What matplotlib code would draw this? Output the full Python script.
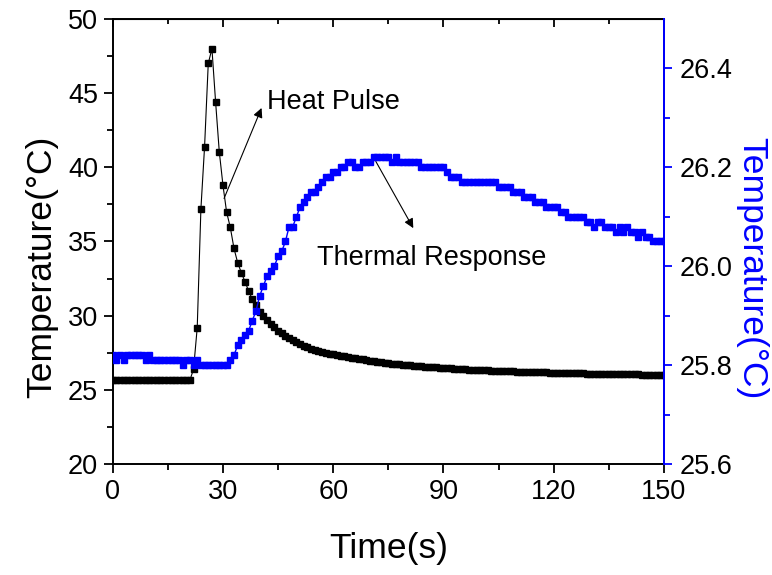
import matplotlib.pyplot as plt
import numpy as np

plt.rcParams['font.family'] = ['Liberation Sans', 'DejaVu Sans']

# sampling time (s), one reading per second
time = np.arange(151)

# heat pulse temperature (left axis)
pulse = [
    25.65, 25.65, 25.65, 25.65, 25.65, 25.65, 25.65, 25.65, 25.65, 25.65,
    25.65, 25.65, 25.65, 25.65, 25.65, 25.65, 25.65, 25.65, 25.65, 25.65,
    25.65, 25.65, 26.40, 29.20, 37.20, 41.40, 47.00, 48.00, 44.40, 41.05,
    38.80, 36.97, 35.95, 34.54, 33.57, 32.90, 32.29, 31.66, 31.10, 30.72,
    30.26, 29.97, 29.70, 29.43, 29.21, 28.98, 28.80, 28.62, 28.47, 28.33,
    28.20, 28.08, 27.97, 27.87, 27.78, 27.70, 27.63, 27.56, 27.50, 27.45,
    27.40, 27.35, 27.30, 27.25, 27.21, 27.17, 27.13, 27.09, 27.05, 27.01,
    26.97, 26.93, 26.90, 26.86, 26.83, 26.80, 26.77, 26.75, 26.72, 26.70,
    26.67, 26.65, 26.63, 26.61, 26.59, 26.57, 26.55, 26.53, 26.51, 26.49,
    26.47, 26.45, 26.44, 26.42, 26.41, 26.39, 26.38, 26.37, 26.35, 26.34,
    26.33, 26.32, 26.31, 26.30, 26.29, 26.28, 26.27, 26.26, 26.25, 26.24,
    26.23, 26.22, 26.21, 26.21, 26.20, 26.19, 26.18, 26.18, 26.17, 26.16,
    26.16, 26.15, 26.14, 26.14, 26.13, 26.13, 26.12, 26.11, 26.11, 26.10,
    26.10, 26.09, 26.09, 26.08, 26.08, 26.07, 26.07, 26.06, 26.06, 26.05,
    26.05, 26.05, 26.04, 26.04, 26.03, 26.03, 26.03, 26.02, 26.02, 26.02,
    26.01,
]

# thermal response temperature (right axis)
response = [
    25.82, 25.81, 25.82, 25.81, 25.82, 25.82, 25.82, 25.82, 25.82, 25.81,
    25.82, 25.81, 25.81, 25.81, 25.81, 25.81, 25.81, 25.81, 25.81, 25.80,
    25.81, 25.81, 25.80, 25.81, 25.80, 25.80, 25.80, 25.80, 25.80, 25.80,
    25.80, 25.80, 25.81, 25.82, 25.84, 25.85, 25.86, 25.87, 25.89, 25.91,
    25.94, 25.96, 25.98, 25.99, 26.00, 26.02, 26.03, 26.05, 26.08, 26.08,
    26.10, 26.12, 26.13, 26.14, 26.15, 26.15, 26.16, 26.17, 26.18, 26.18,
    26.19, 26.19, 26.20, 26.20, 26.21, 26.21, 26.20, 26.20, 26.21, 26.21,
    26.21, 26.22, 26.22, 26.22, 26.22, 26.22, 26.21, 26.22, 26.21, 26.21,
    26.21, 26.21, 26.21, 26.21, 26.20, 26.20, 26.20, 26.20, 26.20, 26.20,
    26.20, 26.19, 26.18, 26.18, 26.18, 26.17, 26.17, 26.17, 26.17, 26.17,
    26.17, 26.17, 26.17, 26.17, 26.17, 26.16, 26.16, 26.16, 26.16, 26.15,
    26.15, 26.15, 26.14, 26.14, 26.14, 26.13, 26.13, 26.13, 26.12, 26.12,
    26.12, 26.12, 26.11, 26.11, 26.10, 26.10, 26.10, 26.10, 26.10, 26.09,
    26.09, 26.08, 26.09, 26.09, 26.08, 26.08, 26.08, 26.07, 26.08, 26.07,
    26.08, 26.07, 26.07, 26.06, 26.07, 26.06, 26.06, 26.05, 26.05, 26.05,
    26.05,
]

fig = plt.figure(figsize=(7.72, 5.75), dpi=100)
ax = fig.add_axes([0.146, 0.193, 0.714, 0.774])

ax.plot(time, pulse, '-s', color='black', lw=0.8, ms=3.8)
ax.set_xlim(0, 150)
ax.set_ylim(20, 50)
ax.set_xticks(range(0, 151, 30))
ax.set_xticks(range(15, 151, 30), minor=True)
ax.set_yticks(range(20, 51, 5))
ax.set_yticks(np.arange(22.5, 50, 5), minor=True)
ax.tick_params(which='both', direction='out', labelsize=19.5, width=1.3, pad=4)
ax.tick_params(which='major', length=6.5)
ax.tick_params(which='minor', length=4)
for s in ax.spines.values():
    s.set_linewidth(1.4)
ax.set_xlabel('Time(s)', fontsize=25.5)
ax.xaxis.set_label_coords(0.5, -0.152)
ax.set_ylabel('Temperature(°C)', fontsize=25.5)
ax.yaxis.set_label_coords(-0.098, 0.443)

# top axis: ticks pointing inward, no labels
top = ax.secondary_xaxis('top')
top.set_xticks(range(0, 151, 30))
top.set_xticks(range(15, 151, 30), minor=True)
top.tick_params(which='both', direction='in', labeltop=False, width=1.3)
top.tick_params(which='major', length=6)
top.tick_params(which='minor', length=3.6)

ax2 = ax.twinx()
ax2.plot(time, response, '-s', color='#0000ff', lw=1.0, ms=3.8)
ax2.set_ylim(25.6, 26.5)
ax2.set_yticks([25.6, 25.8, 26.0, 26.2, 26.4])
ax2.set_yticks([25.7, 25.9, 26.1, 26.3], minor=True)
ax2.yaxis.set_major_formatter('{x:.1f}')
ax2.tick_params(which='both', direction='out', colors='#0000ff', labelcolor='black',
                labelsize=19.5, width=1.3, pad=5)
ax2.tick_params(which='major', length=6)
ax2.tick_params(which='minor', length=4.5)
for side in ['top', 'left', 'bottom']:
    ax2.spines[side].set_visible(False)
ax2.spines['right'].set_color('#0000ff')
ax2.spines['right'].set_linewidth(1.4)
ax2.set_ylabel('Temperature(°C)', fontsize=25.5, color='#0000ff', rotation=270)
ax2.yaxis.set_label_coords(1.19, 0.441)

# annotations
arrow = dict(arrowstyle='-|>', color='black', lw=0.8, mutation_scale=14, shrinkA=0, shrinkB=0)
ax.annotate('', xy=(40.5, 44.0), xytext=(30.3, 37.9), arrowprops=arrow)
ax.text(42.1, 43.9, 'Heat Pulse', fontsize=19.5, ha='left', va='baseline')
ax.annotate('', xy=(81.8, 35.9), xytext=(71.6, 40.4), arrowprops=arrow)
ax.text(55.5, 33.4, 'Thermal Response', fontsize=19.5, ha='left', va='baseline')

fig.savefig('out.png', dpi=100)
